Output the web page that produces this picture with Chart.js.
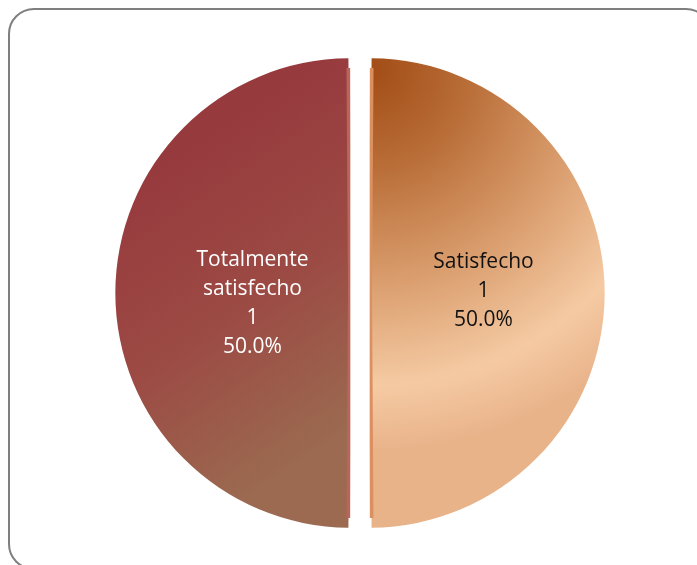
<!DOCTYPE html>
<html>
<head>
<meta charset="utf-8">
<script src="https://cdn.jsdelivr.net/npm/chart.js@4/dist/chart.umd.min.js"></script>
<style>
  html, body { margin: 0; padding: 0; background: #fff; overflow: hidden; }
  #frame {
    position: absolute; left: 8px; top: 8px; width: 700px; height: 558px;
    border: 2px solid #7f7f7f; border-radius: 26px;
  }
  #wrap { position: absolute; left: 0; top: 0; width: 697px; height: 565px; }
</style>
</head>
<body>
<div id="frame"></div>
<div id="wrap"><canvas id="pieChart" width="697" height="565"></canvas></div>
<script>
// Data (right half first, Excel starts at 12 o'clock going clockwise)
const categories = ["Satisfecho", "Totalmente satisfecho"];
const counts = [1, 1];
const labelLines = [["Satisfecho"], ["Totalmente", "satisfecho"]];
const textColors = ["#111111", "#ffffff"];
const rimColors = ["#dc9060", "#b9655a"];

const R = 225;

// Gradient fill per slice, built from the chart area once it exists
function sliceFill(context) {
    const chart = context.chart;
    const area = chart.chartArea;
    if (!area) return "#b06040";
    const g = chart.ctx;
    const cx = (area.left + area.right) / 2;
    const cy = (area.top + area.bottom) / 2;
    if (context.dataIndex === 0) {
        const grad = g.createRadialGradient(cx, cy - R, 0, cx, cy - R, R * 1.7);
        grad.addColorStop(0, "#a24c16");
        grad.addColorStop(0.25, "#b86c36");
        grad.addColorStop(0.55, "#d99c6c");
        grad.addColorStop(0.83, "#f5caa3");
        grad.addColorStop(1, "#e9b38a");
        return grad;
    }
    const grad = g.createLinearGradient(cx - R * 0.8, cy - R * 0.6, cx, cy + R * 0.6);
    grad.addColorStop(0, "#973a3e");
    grad.addColorStop(0.5, "#9c4a44");
    grad.addColorStop(1, "#9b6a50");
    return grad;
}

// Slice labels: category, count, percentage
const sliceLabels = {
    id: "sliceLabels",
    afterDatasetsDraw(chart) {
        const ctx = chart.ctx;
        const meta = chart.getDatasetMeta(0);
        const total = counts.reduce((a, b) => a + b, 0);
        ctx.save();
        ctx.font = "21px 'Open Sans'";
        ctx.textAlign = "center";
        ctx.textBaseline = "middle";
        meta.data.forEach((arc, i) => {
            const pos = arc.tooltipPosition();
            const dx = i === 1 ? 25 : -9;
            const dy = i === 1 ? 11 : -2;
            const lines = labelLines[i].concat([String(counts[i]), (counts[i] / total * 100).toFixed(1) + "%"]);
            const lh = 29;
            const top = pos.y + dy - (lines.length - 1) * lh / 2;
            ctx.fillStyle = textColors[i];
            lines.forEach((t, k) => ctx.fillText(t, pos.x + dx, top + k * lh));
        });
        ctx.restore();
    }
};

const ctx = document.getElementById("pieChart").getContext("2d");
new Chart(ctx, {
    type: "pie",
    data: {
        labels: categories,
        datasets: [{
            data: counts,
            backgroundColor: sliceFill,
            borderColor: rimColors,
            borderWidth: 2,
            borderAlign: "inner",
            offset: 40
        }]
    },
    options: {
        responsive: false,
        animation: false,
        radius: R,
        layout: { padding: { left: 23, top: 21 } },
        plugins: {
            legend: { display: false },
            tooltip: { enabled: false }
        }
    },
    plugins: [sliceLabels]
});
</script>
</body>
</html>
